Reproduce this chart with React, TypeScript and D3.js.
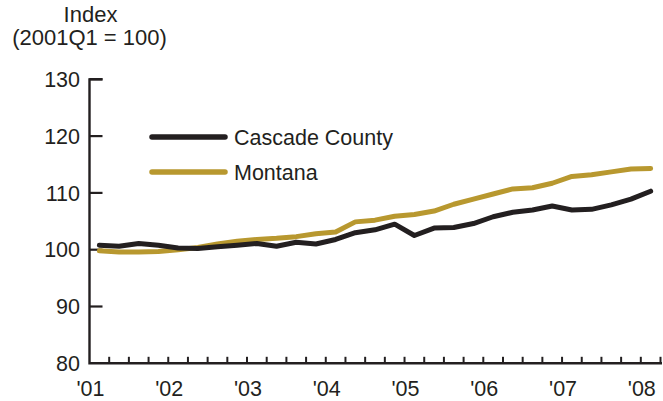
import { useEffect, useRef } from "react";
import * as d3 from "d3";

// quarterly index, 2001Q1 .. 2008Q1
const cascade = [
  100.8, 100.6, 101.1, 100.8, 100.3, 100.2, 100.5, 100.8, 101.1, 100.6,
  101.3, 101.0, 101.8, 103.0, 103.5, 104.5, 102.5, 103.8, 103.9, 104.6,
  105.8, 106.6, 107.0, 107.7, 107.0, 107.1, 107.9, 108.9, 110.3,
];
const montana = [
  99.8, 99.6, 99.6, 99.7, 100.0, 100.4, 101.0, 101.5, 101.8, 102.0,
  102.3, 102.8, 103.1, 104.9, 105.2, 105.9, 106.2, 106.8, 108.0, 108.9,
  109.8, 110.7, 110.9, 111.7, 112.9, 113.2, 113.7, 114.2, 114.3,
];
const yearLabels = ["'01", "'02", "'03", "'04", "'05", "'06", "'07", "'08"];
const yTicks = [80, 90, 100, 110, 120, 130];
const seriesNames = ["Cascade County", "Montana"];

const BLACK = "#231f20";
const GOLD = "#b8982f";
const FONT = "'Liberation Sans', Arial, Helvetica, sans-serif";

export default function App() {
  const ref = useRef<SVGSVGElement | null>(null);

  useEffect(() => {
    if (!ref.current) return;
    const width = 663;
    const height = 401;
    const margin = { top: 79.3, right: 2.5, bottom: 37.7, left: 89.5 };
    const nQuarters = 29;

    const svg = d3.select(ref.current).attr("viewBox", `0 0 ${width} ${height}`);
    svg.selectAll("*").remove();

    const x = d3.scaleLinear().domain([0, nQuarters]).range([margin.left, width - margin.right]);
    const y = d3.scaleLinear().domain([80, 130]).range([height - margin.bottom, margin.top]);

    /* ---------------- TITLE ---------------- */
    const title = svg.append("g")
      .attr("font-family", FONT)
      .attr("font-size", 22)
      .attr("fill", BLACK)
      .attr("text-anchor", "middle");
    title.append("text").attr("x", margin.left + 1).attr("y", 22).text("Index");
    title.append("text").attr("x", margin.left).attr("y", 45).text("(2001Q1 = 100)");

    /* ---------------- AXES ---------------- */
    const y0 = y(80);

    svg.selectAll(".ytick")
      .data(yTicks.filter(d => d !== 80))
      .enter()
      .append("line")
      .attr("x1", margin.left)
      .attr("x2", margin.left + 13)
      .attr("y1", d => y(d))
      .attr("y2", d => y(d))
      .attr("stroke", BLACK)
      .attr("stroke-width", 2.2);

    svg.selectAll(".ylabel")
      .data(yTicks)
      .enter()
      .append("text")
      .attr("x", 80)
      .attr("y", d => y(d))
      .attr("dy", "0.36em")
      .attr("text-anchor", "end")
      .attr("font-family", FONT)
      .attr("font-size", 21.5)
      .attr("fill", BLACK)
      .text(d => d);

    svg.selectAll(".xtick")
      .data(d3.range(1, nQuarters + 1))
      .enter()
      .append("line")
      .attr("x1", d => x(d))
      .attr("x2", d => x(d))
      .attr("y1", y0)
      .attr("y2", y0 - 6.5)
      .attr("stroke", BLACK)
      .attr("stroke-width", 2);

    svg.selectAll(".xlabel")
      .data(yearLabels)
      .enter()
      .append("text")
      .attr("x", (_, i) => x(i * 4) + 1)
      .attr("y", 395.5)
      .attr("text-anchor", "middle")
      .attr("font-family", FONT)
      .attr("font-size", 21.5)
      .attr("fill", BLACK)
      .text(d => d);

    svg.append("path")
      .attr("d", `M${margin.left},${y(130)}H${margin.left + 13}M${margin.left},${y(130) - 1.1}V${y0}H${width - 1}`)
      .attr("fill", "none")
      .attr("stroke", BLACK)
      .attr("stroke-width", 2.4);

    /* ---------------- LINES ---------------- */
    const line = d3.line<number>()
      .x((_, i) => x(i + 0.5))
      .y(d => y(d));

    [
      { data: montana, color: GOLD },
      { data: cascade, color: BLACK },
    ].forEach(s => {
      svg.append("path")
        .datum(s.data)
        .attr("fill", "none")
        .attr("stroke", s.color)
        .attr("stroke-width", 5)
        .attr("stroke-linejoin", "round")
        .attr("stroke-linecap", "round")
        .attr("d", line);
    });

    /* ---------------- LEGEND ---------------- */
    const legend = svg.append("g");
    [BLACK, GOLD].forEach((c, i) => {
      const ly = 137 + i * 35;
      legend.append("line")
        .attr("x1", 152)
        .attr("x2", 225)
        .attr("y1", ly)
        .attr("y2", ly)
        .attr("stroke", c)
        .attr("stroke-width", 5.5)
        .attr("stroke-linecap", "round");
      legend.append("text")
        .attr("x", 234)
        .attr("y", ly + 8)
        .attr("font-family", FONT)
        .attr("font-size", 21.5)
        .attr("fill", BLACK)
        .text(seriesNames[i]);
    });
  }, []);

  return (
    <svg
      ref={ref}
      width={663}
      height={401}
      style={{ position: "absolute", left: 0, top: 0, background: "#fff" }}
    />
  );
}
